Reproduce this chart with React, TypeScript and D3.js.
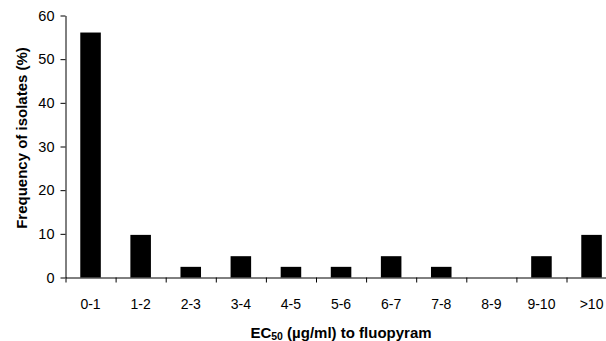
import { useEffect, useRef } from 'react';
import * as d3 from 'd3';

const categories = ['0-1', '1-2', '2-3', '3-4', '4-5', '5-6', '6-7', '7-8', '8-9', '9-10', '>10'];
const frequencies = [56.1, 9.76, 2.44, 4.88, 2.44, 2.44, 4.88, 2.44, 0, 4.88, 9.76];
const yTicks = [0, 10, 20, 30, 40, 50, 60];

const WIDTH = 606;
const HEIGHT = 341;
const X0 = 65.5;
const STEP = 50.1;
const Y_BOTTOM = 277.5;
const Y_TOP = 15.5;
const FONT = 'Arial, "Liberation Sans", Helvetica, sans-serif';

export default function App() {
  const svgRef = useRef<SVGSVGElement>(null);

  useEffect(() => {
    if (!svgRef.current) return;
    const svg = d3.select(svgRef.current);
    svg.selectAll('*').remove();

    const xScale = d3
      .scaleBand<string>()
      .domain(categories)
      .range([X0, X0 + STEP * categories.length])
      .paddingInner(0.59)
      .paddingOuter(0.295);

    const edgeScale = d3
      .scaleLinear()
      .domain([0, categories.length])
      .range([X0, X0 + STEP * categories.length]);

    const yScale = d3.scaleLinear().domain([0, 60]).range([Y_BOTTOM, Y_TOP]);

    // bars
    svg
      .append('g')
      .selectAll('rect')
      .data(frequencies)
      .join('rect')
      .attr('x', (_d: number, i: number) => xScale(categories[i]) ?? 0)
      .attr('y', (d: number) => yScale(d))
      .attr('width', xScale.bandwidth())
      .attr('height', (d: number) => Y_BOTTOM - yScale(d))
      .attr('fill', '#000');

    // y axis
    const yAxis = d3.axisLeft(yScale).tickValues(yTicks).tickSize(5).tickSizeOuter(0).tickPadding(6);
    const gy = svg.append('g').attr('transform', `translate(${X0},0)`).call(yAxis);
    gy.selectAll('text').attr('font-family', FONT).attr('font-size', 14.5).attr('fill', '#000');
    gy.selectAll('line,path').attr('stroke', '#000');

    // x axis: ticks at category boundaries
    const ticksAxis = d3
      .axisBottom(edgeScale)
      .tickValues(d3.range(0, categories.length + 1))
      .tickSize(5)
      .tickSizeOuter(0)
      .tickFormat(() => '');
    const gx = svg.append('g').attr('transform', `translate(0,${Y_BOTTOM})`).call(ticksAxis);
    gx.selectAll('line,path').attr('stroke', '#000');

    // x labels at band centers
    svg
      .append('g')
      .selectAll('text')
      .data(categories)
      .join('text')
      .attr('x', (d: string) => (xScale(d) ?? 0) + xScale.bandwidth() / 2)
      .attr('y', 309)
      .attr('text-anchor', 'middle')
      .attr('font-family', FONT)
      .attr('font-size', 14)
      .text((d: string) => d);

    // x title
    const xt = svg
      .append('text')
      .attr('x', 341)
      .attr('y', 338)
      .attr('text-anchor', 'middle')
      .attr('font-family', FONT)
      .attr('font-size', 15)
      .attr('font-weight', 'bold');
    xt.append('tspan').text('EC');
    xt.append('tspan').attr('font-size', 10.5).attr('dy', 2).text('50');
    xt.append('tspan').attr('dy', -2).text(' (µg/ml) to fluopyram');

    // y title
    svg
      .append('text')
      .attr('transform', 'translate(27,138) rotate(-90)')
      .attr('text-anchor', 'middle')
      .attr('font-family', FONT)
      .attr('font-size', 15)
      .attr('font-weight', 'bold')
      .text('Frequency of isolates (%)');
  }, []);

  return (
    <div style={{ position: 'absolute', left: 0, top: 0, background: '#fff' }}>
      <svg ref={svgRef} width={WIDTH} height={HEIGHT} style={{ display: 'block' }} />
    </div>
  );
}
